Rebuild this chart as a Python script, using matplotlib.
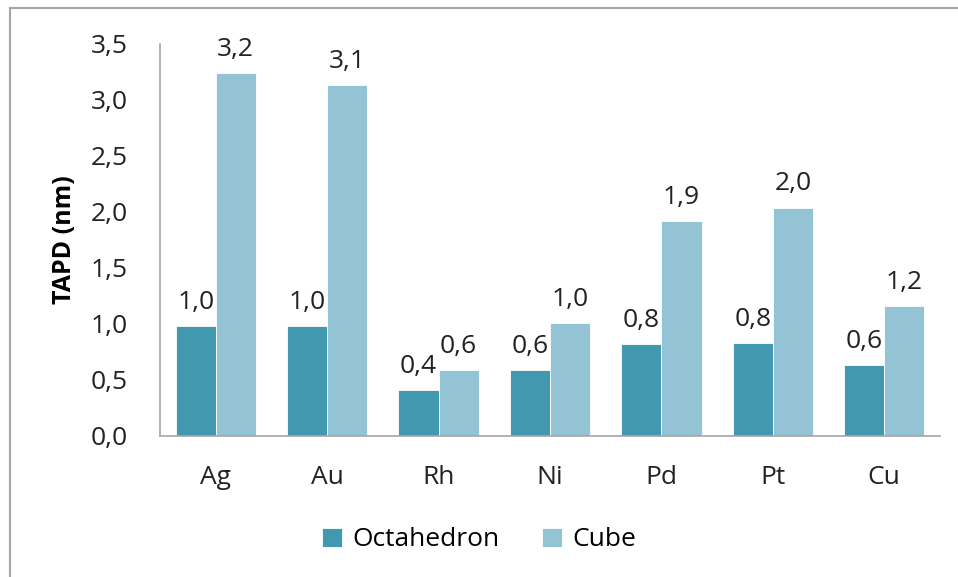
import matplotlib.pyplot as plt
import numpy as np
from matplotlib.lines import Line2D

metals = ['Ag', 'Au', 'Rh', 'Ni', 'Pd', 'Pt', 'Cu']
octahedron = [0.98, 0.98, 0.41, 0.59, 0.82, 0.83, 0.63]
cube = [3.24, 3.13, 0.59, 1.01, 1.92, 2.04, 1.16]

oct_color = '#4298AF'
cube_color = '#93C3D4'

plt.rcParams['font.family'] = ['Open Sans', 'DejaVu Sans']


def comma(v, dec=1):
    return f'{v:.{dec}f}'.replace('.', ',')


fig = plt.figure(figsize=(9.58, 5.77), dpi=100)
ax = fig.add_axes([160 / 958, 141 / 577, 780 / 958, 392 / 577])

x = np.arange(len(metals))
w = 0.36
b1 = ax.bar(x - w / 2, octahedron, w, color=oct_color, edgecolor='white',
            linewidth=0.6, label='Octahedron')
b2 = ax.bar(x + w / 2, cube, w, color=cube_color, edgecolor='white',
            linewidth=0.6, label='Cube')

# value labels above each bar
for bars, vals in ((b1, octahedron), (b2, cube)):
    for r, v in zip(bars, vals):
        ax.text(r.get_x() + r.get_width() / 2, v + 0.1, comma(v),
                ha='center', va='bottom', fontsize=19, color='#222222')

ax.set_xlim(-0.5, len(metals) - 0.5)
ax.set_ylim(0, 3.5)
ax.set_yticks(np.arange(0, 3.51, 0.5))
ax.set_yticklabels([comma(t) for t in np.arange(0, 3.51, 0.5)])
ax.set_xticks(x)
ax.set_xticklabels(metals)
ax.tick_params(axis='y', length=0, labelsize=19, pad=23, colors='#222222')
ax.tick_params(axis='x', length=0, labelsize=19, pad=21, colors='#222222')

for s in ('top', 'right'):
    ax.spines[s].set_visible(False)
for s in ('left', 'bottom'):
    ax.spines[s].set_color('#A6A6A6')
    ax.spines[s].set_linewidth(1.2)

ax.set_ylabel('TAPD (nm)', fontsize=18, fontweight='bold')
ax.yaxis.set_label_coords(-0.106, 0.5)

fig.legend(handles=[b1, b2], loc='center', bbox_to_anchor=(0.5, 1 - 540 / 577),
           ncol=2, frameon=False, fontsize=19, handlelength=0.75,
           handleheight=0.75, handletextpad=0.4, columnspacing=1.6)

# outer chart frame (left and top edges)
fig.add_artist(Line2D([10 / 958, 10 / 958], [0, 1 - 8 / 577],
                      transform=fig.transFigure, color='#A6A6A6', lw=1.5))
fig.add_artist(Line2D([10 / 958, 1], [1 - 8 / 577, 1 - 8 / 577],
                      transform=fig.transFigure, color='#A6A6A6', lw=1.5))

fig.savefig('out.png', dpi=100)
